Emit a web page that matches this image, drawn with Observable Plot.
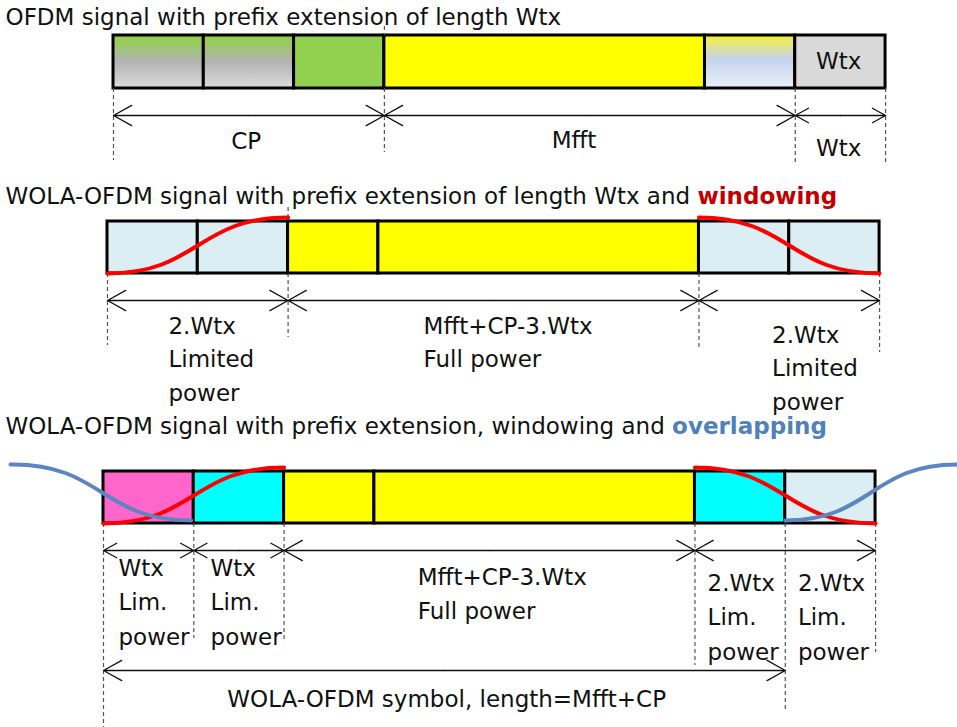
<!DOCTYPE html>
<html><head><meta charset="utf-8">
<script src="https://cdn.jsdelivr.net/npm/d3@7"></script>
<script src="https://cdn.jsdelivr.net/npm/@observablehq/plot@0.6"></script>
<style>body{margin:0;background:#fff;overflow:hidden} svg{display:block}</style>
</head><body><div id="chart"></div>
<script>
// ---------- data (lengths in units of Wtx) ----------
const segmentNames = ["ext1", "ext2", "cpCopy", "body", "tail", "wtx"];
const segmentLengths = [1, 1, 1, 3.55, 1, 1];          // Mfft = 4.55 Wtx, CP = 3 Wtx
const titles = [
  "OFDM signal with prefix extension of length Wtx",
  "WOLA-OFDM signal with prefix extension of length Wtx and ",
  "WOLA-OFDM signal with prefix extension, windowing and "
];
const titleHighlights = ["", "windowing", "overlapping"];
const row1Dims = [[0, 3], [3, 5], [5, 6]];              // boundary indices
const row1DimLabels = ["CP", "Mfft", "Wtx"];
const row1BoxLabel = "Wtx";
const row2Dims = [[0, 2], [2, 4], [4, 6]];
const row2Labels = [["2.Wtx", "Limited", "power"], ["Mfft+CP-3.Wtx", "Full power"], ["2.Wtx", "Limited", "power"]];
const row3Dims = [[0, 1], [1, 2], [2, 4], [4, 6]];
const row3Labels = [["Wtx", "Lim.", "power"], ["Wtx", "Lim.", "power"], ["Mfft+CP-3.Wtx", "Full power"], ["2.Wtx", "Lim.", "power"], ["2.Wtx", "Lim.", "power"]];
const symbolDim = [0, 5];
const symbolLabel = "WOLA-OFDM symbol, length=Mfft+CP";

// ---------- layout ----------
const U = 90.3, X0 = 103;
const bounds = [0, ...d3.cumsum(segmentLengths)];
const FONT = "DejaVu Sans", FS = 23, INK = "#111";
const rows = [
  {offset: 10 / U, top: 35, bottom: 88, arrowY: 115,
   fills: ["url(#gExt)", "url(#gExt)", "#92D050", "#FFFF00", "url(#gTail)", "#D9D9D9"],
   dash: [[0, 160], [3, 152], [5, 163], [6, 165]]},
  {offset: 4 / U, top: 221, bottom: 273, arrowY: 300,
   fills: ["#DAEEF3", "#DAEEF3", "#FFFF00", "#FFFF00", "#DAEEF3", "#DAEEF3"],
   dash: [[0, 345], [2, 337], [4, 350], [6, 352]]},
  {offset: 0, top: 471, bottom: 523, arrowY: 550,
   fills: ["#FF66CC", "#00FFFF", "#FFFF00", "#FFFF00", "#00FFFF", "#DAEEF3"],
   dash: [[0, 727], [1, 638], [2, 640], [4, 665], [5, 712], [6, 652]]}
];

const segs = [];
rows.forEach((r, ri) => segmentNames.forEach((n, i) => segs.push({
  name: n, x1: r.offset + bounds[i], x2: r.offset + bounds[i + 1], y1: r.top, y2: r.bottom, fill: r.fills[i]
})));

const dashes = [];
rows.forEach(r => r.dash.forEach(([b, yEnd]) => dashes.push({x: r.offset + bounds[b], y1: r.bottom, y2: yEnd})));
dashes.push({x: rows[0].offset + bounds[3], y1: 26, y2: rows[0].top});
dashes.push({x: rows[1].offset + bounds[2], y1: 207, y2: rows[1].top});

const dims = [];
const addDims = (r, list, y) => list.forEach(([a, b]) => dims.push({a: r.offset + bounds[a], b: r.offset + bounds[b], y}));
addDims(rows[0], row1Dims, rows[0].arrowY);
addDims(rows[1], row2Dims, rows[1].arrowY);
addDims(rows[2], row3Dims, rows[2].arrowY);
addDims(rows[2], [symbolDim], 670);
const halfArrows = dims.flatMap(d => {const m = (d.a + d.b) / 2; return [{x1: m, x2: d.a, y: d.y}, {x1: m, x2: d.b, y: d.y}];});

// window curves (level 1 = full power, 0 = zero)
const curves = [];
const addCurve = (id, pts, yTop, yBot) => pts.forEach(([u, l]) => curves.push({id, x: u, y: l ? yTop : yBot}));
[1, 2].forEach(ri => {
  const r = rows[ri];
  addCurve("rise" + ri, [[r.offset + bounds[0], 0], [r.offset + bounds[2], 1]], r.top - 4, r.bottom);
  addCurve("fall" + ri, [[r.offset + bounds[4], 1], [r.offset + bounds[6], 0]], r.top - 4, r.bottom);
});
const blue = [];
[["prev", [[bounds[0] - 1.03, 1], [bounds[0] - 1, 1], [bounds[1] - 0.03, 0]]],
 ["next", [[bounds[5], 0], [bounds[5] + 1.9, 1], [bounds[5] + 2.5, 1]]]]
  .forEach(([id, pts]) => pts.forEach(([u, l]) => blue.push({id, x: u, y: l ? 464 : 520})));

// text
const startTexts = [], midTexts = [];
titles.forEach((t, i) => startTexts.push({x: -1.085, y: [24, 203, 433][i], text: t + titleHighlights[i]}));
row1DimLabels.forEach((t, i) => midTexts.push({x: rows[0].offset + [1.47, 5.1, 8.03][i], y: [148, 147, 155][i], text: t}));
midTexts.push({x: rows[0].offset + 8.03, y: 68, text: row1BoxLabel});
const addLines = (r, labels, xs, ys, sp) => labels.forEach((lines, i) => lines.forEach((t, j) =>
  startTexts.push({x: r.offset + xs[i], y: ys[i] + j * sp, text: t})));
addLines(rows[1], row2Labels, [0.675, 3.5, 7.36], [333, 333, 342], 33.5);
addLines(rows[2], row3Labels, [0.166, 1.186, 3.48, 6.69, 7.69], [575, 575, 584, 590, 590], 34.5);
midTexts.push({x: 3.8, y: 706, text: symbolLabel});

const defs = () => {
  const d = d3.create("svg:defs");
  const g1 = d.append("linearGradient").attr("id", "gExt").attr("x1", 0).attr("x2", 0).attr("y1", 0).attr("y2", 1);
  [[0, "#92D050"], [0.12, "#96CC58"], [0.5, "#B3B3B3"], [1, "#DCDCDC"]].forEach(([o, c]) => g1.append("stop").attr("offset", o).attr("stop-color", c));
  const g2 = d.append("linearGradient").attr("id", "gTail").attr("x1", 0).attr("x2", 0).attr("y1", 0).attr("y2", 1);
  [[0, "#F2EE2A"], [0.12, "#ECEA6A"], [0.45, "#C4D3EC"], [1, "#E9EFF9"]].forEach(([o, c]) => g2.append("stop").attr("offset", o).attr("stop-color", c));
  return d.node();
};

const textOpts = {x: "x", y: "y", text: "text", lineAnchor: "bottom", fontSize: FS, fontFamily: FONT, fill: INK};
const plot = Plot.plot({
  width: 957, height: 727,
  marginTop: 0, marginRight: 0, marginBottom: 0, marginLeft: 0,
  x: {domain: [-X0 / U, (957 - X0) / U], axis: null},
  y: {domain: [0, 727], range: [0, 727], axis: null},
  color: {type: "identity"},
  marks: [
    defs,
    Plot.rect(segs, {x1: "x1", x2: "x2", y1: "y1", y2: "y2", fill: "fill", stroke: "#000", strokeWidth: 3}),
    Plot.ruleX(dashes, {x: "x", y1: "y1", y2: "y2", stroke: "#555", strokeWidth: 1.2, strokeDasharray: "4,3"}),
    Plot.arrow(halfArrows, {x1: "x1", x2: "x2", y1: "y", y2: "y", stroke: INK, strokeWidth: 1.3, headLength: 24, headAngle: 58}),
    Plot.line(curves, {x: "x", y: "y", z: "id", curve: "bump-x", stroke: "#FF0000", strokeWidth: 4}),
    Plot.line(blue, {x: "x", y: "y", z: "id", curve: "bump-x", stroke: "#5B86C2", strokeWidth: 4}),
    Plot.text(startTexts, {...textOpts, textAnchor: "start"}),
    Plot.text(midTexts, {...textOpts, textAnchor: "middle"})
  ]
});

// colour the highlighted word of each title
d3.select(plot).selectAll("text").each(function () {
  const i = titles.findIndex((t, k) => titleHighlights[k] && this.textContent === t + titleHighlights[k]);
  if (i < 0) return;
  const el = d3.select(this);
  el.text(null);
  el.append("tspan").text(titles[i]).style("white-space", "pre");
  el.append("tspan").text(titleHighlights[i]).attr("font-weight", "bold")
    .attr("fill", i === 1 ? "#C00000" : "#4F81BD");
});
document.getElementById("chart").append(plot);
</script>
</body></html>
